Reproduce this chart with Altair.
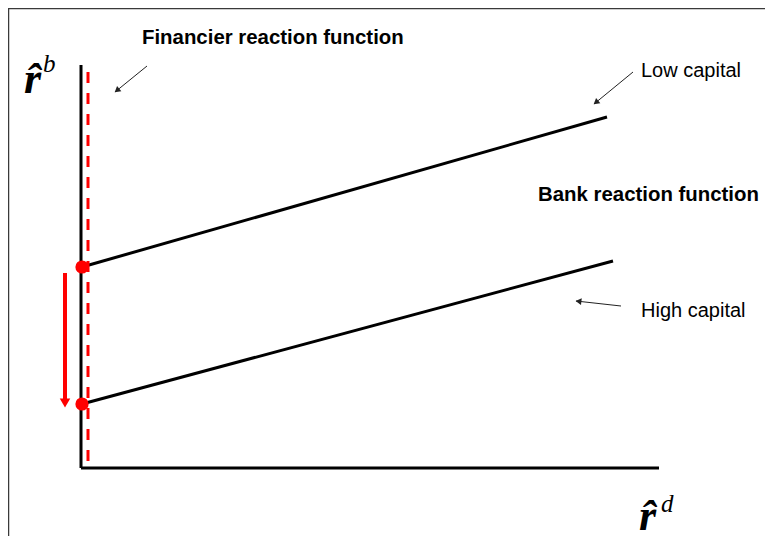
import math
import altair as alt
import pandas as pd

# Diagram coordinates: origin at the corner of the two axes, y pointing up (1 unit ~ 1 px)
X_DOMAIN = [-73, 684]
Y_DOMAIN = [-68, 460]

# Axes of the diagram (r_d horizontal, r_b vertical)
axes_x1 = [0, 0]
axes_y1 = [0, 0]
axes_x2 = [0, 578]
axes_y2 = [403, 0]

# Bank reaction functions
bank_names = ["Low capital", "High capital"]
bank_x_start = [1, 1]
bank_y_start = [201, 64]
bank_x_end = [526, 532]
bank_y_end = [351, 207]

# Financier reaction function (vertical dashed)
financier_x = [7]
financier_y_top = [396]
financier_y_bottom = [5]

# Equilibria
equilibrium_x = [1, 1]
equilibrium_y = [201, 64]

# Downward shift arrow
shift_x = [-16]
shift_y_tail = [195]
shift_y_shaft_end = [68]
shift_y_head = [65]

# Pointer arrows (tail -> tip)
pointer_tail_x = [66, 552, 540]
pointer_tail_y = [402, 396, 162]
pointer_tip_x = [34, 513, 495]
pointer_tip_y = [376, 364, 167]

# Labels
bold_labels = ["Financier reaction function", "Bank reaction function"]
bold_x = [61, 457]
bold_y = [424.5, 266.8]
plain_labels = ["Low capital", "High capital"]
plain_x = [560, 560]
plain_y = [391.3, 151.3]
symbol_labels = ["r\u0302", "r\u0302"]
symbol_x = [-57, 558]
symbol_y = [375, -62]
super_labels = ["b", "d"]
super_x = [-38, 580]
super_y = [396, -44]

# Picture frame (top and left edge)
frame_x1 = [-73, -72.5]
frame_y1 = [459.5, 460]
frame_x2 = [684, -72.5]
frame_y2 = [459.5, -68]

xs = alt.Scale(domain=X_DOMAIN, nice=False, zero=False)
ys = alt.Scale(domain=Y_DOMAIN, nice=False, zero=False)


def seg_layer(df, color, width, dash=None):
    kw = dict(color=color, strokeWidth=width)
    if dash:
        kw["strokeDash"] = dash
    return alt.Chart(df).mark_rule(**kw).encode(
        x=alt.X("x1:Q", scale=xs, axis=None),
        y=alt.Y("y1:Q", scale=ys, axis=None),
        x2="x2:Q",
        y2="y2:Q",
    )


frame = seg_layer(pd.DataFrame({"x1": frame_x1, "y1": frame_y1, "x2": frame_x2, "y2": frame_y2}), "#3a3a3a", 1.5)
axes = seg_layer(pd.DataFrame({"x1": axes_x1, "y1": axes_y1, "x2": axes_x2, "y2": axes_y2}), "#000000", 3)
bank = seg_layer(pd.DataFrame({"x1": bank_x_start, "y1": bank_y_start, "x2": bank_x_end, "y2": bank_y_end,
                               "name": bank_names}), "#000000", 3)
fin = seg_layer(pd.DataFrame({"x1": financier_x, "y1": financier_y_top, "x2": financier_x,
                              "y2": financier_y_bottom}), "#ff0000", 3, dash=[11, 10])

dots = alt.Chart(pd.DataFrame({"x": equilibrium_x, "y": equilibrium_y})).mark_point(
    shape="circle", filled=True, color="#ff0000", opacity=1, size=175
).encode(x=alt.X("x:Q", scale=xs, axis=None), y=alt.Y("y:Q", scale=ys, axis=None))

shaft = seg_layer(pd.DataFrame({"x1": shift_x, "y1": shift_y_tail, "x2": shift_x, "y2": shift_y_shaft_end}),
                  "#ff0000", 4)
shift_head = alt.Chart(pd.DataFrame({"x": shift_x, "y": shift_y_head})).mark_point(
    shape="triangle-down", filled=True, color="#ff0000", opacity=1, size=110
).encode(x=alt.X("x:Q", scale=xs, axis=None), y=alt.Y("y:Q", scale=ys, axis=None))

# pointer arrows
ptr = pd.DataFrame({"x1": pointer_tail_x, "y1": pointer_tail_y, "x2": pointer_tip_x, "y2": pointer_tip_y})
ptr_lines = seg_layer(ptr, "#222222", 1)
heads = []
for tx, ty, hx, hy in zip(pointer_tail_x, pointer_tail_y, pointer_tip_x, pointer_tip_y):
    dx, dy = hx - tx, hy - ty
    L = math.hypot(dx, dy)
    ang = math.degrees(math.atan2(dx, dy)) % 360
    heads.append({"x": hx - dx / L * 2.5, "y": hy - dy / L * 2.5, "angle": ang})
ptr_heads = alt.Chart(pd.DataFrame(heads)).mark_point(
    shape="triangle-up", filled=True, color="#222222", opacity=1, size=45
).encode(
    x=alt.X("x:Q", scale=xs, axis=None),
    y=alt.Y("y:Q", scale=ys, axis=None),
    angle=alt.Angle("angle:Q", scale=None),
)


def text_layer(labels, x, y, font, size, weight="normal", style="normal"):
    return alt.Chart(pd.DataFrame({"t": labels, "x": x, "y": y})).mark_text(
        align="left", baseline="alphabetic", font=font, fontSize=size,
        fontWeight=weight, fontStyle=style, color="#000000"
    ).encode(
        x=alt.X("x:Q", scale=xs, axis=None),
        y=alt.Y("y:Q", scale=ys, axis=None),
        text="t:N",
    )


t_bold = text_layer(bold_labels, bold_x, bold_y, "Liberation Sans", 20.4, weight="bold")
t_plain = text_layer(plain_labels, plain_x, plain_y, "Liberation Sans", 20)
t_sym = text_layer(symbol_labels, symbol_x, symbol_y, "Liberation Serif", 44, weight="bold", style="italic")
t_sup = text_layer(super_labels, super_x, super_y, "Liberation Serif", 25, style="italic")

chart = alt.layer(
    frame, axes, bank, fin, dots, shaft, shift_head, ptr_lines, ptr_heads,
    t_bold, t_plain, t_sym, t_sup
).properties(
    width=757, height=528, autosize=alt.AutoSizeParams(type="none"), padding=0,
    background="#ffffff"
).configure_view(stroke=None)

chart.save("out.html", embed_options={"renderer": "svg", "actions": False})
